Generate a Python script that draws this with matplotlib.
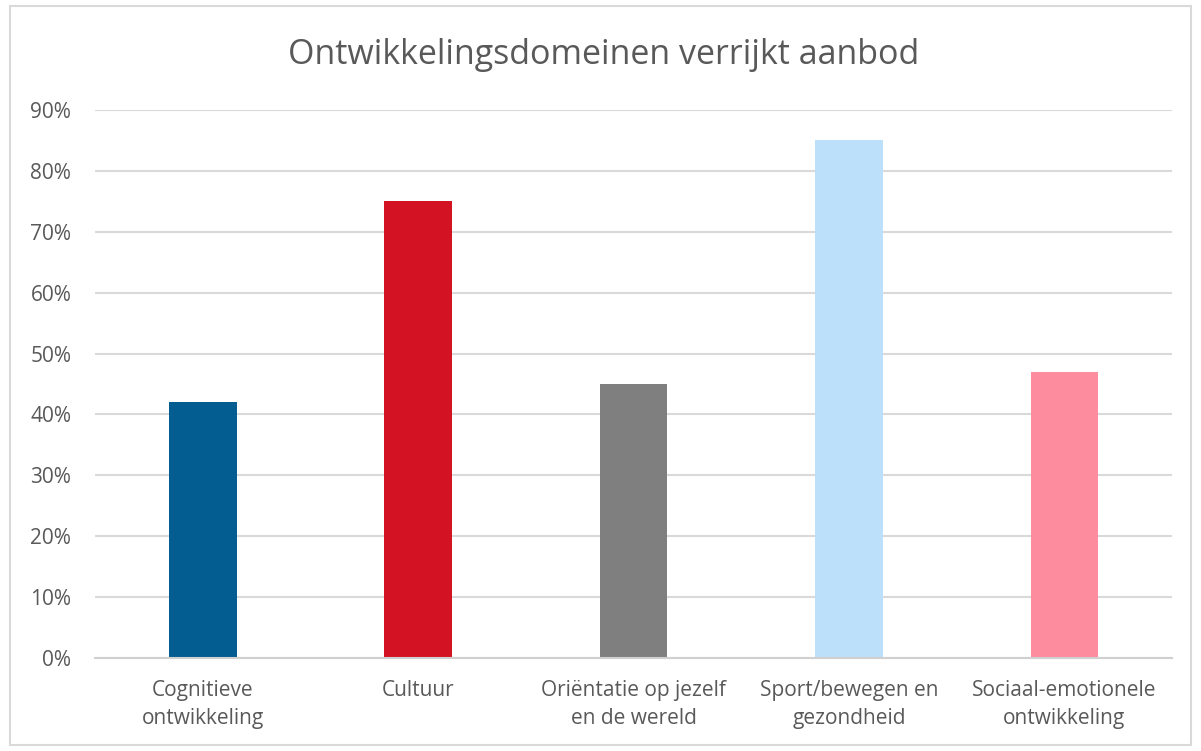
import matplotlib
matplotlib.use('Agg')
import matplotlib.pyplot as plt
from matplotlib.patches import Rectangle
from matplotlib.ticker import PercentFormatter

# data
categories = ['Cognitieve\nontwikkeling', 'Cultuur', 'Oriëntatie op jezelf\nen de wereld',
              'Sport/bewegen en\ngezondheid', 'Sociaal-emotionele\nontwikkeling']
values = [0.42, 0.75, 0.45, 0.85, 0.47]
colors = ['#035d91', '#d31224', '#7f7f7f', '#bcdffa', '#fe8c9f']
title = 'Ontwikkelingsdomeinen verrijkt aanbod'

plt.rcParams['font.family'] = ['Open Sans', 'DejaVu Sans']
text_c = '#595959'

fig = plt.figure(figsize=(12.01, 7.51), dpi=100)
ax = fig.add_axes([0.079, 0.1238, 0.897, 0.7297])

x = range(len(categories))
ax.bar(x, values, width=0.315, color=colors, zorder=3)

ax.set_xlim(-0.5, len(categories) - 0.5)
ax.set_ylim(0, 0.9)
ax.set_yticks([i / 10 for i in range(10)])
ax.yaxis.set_major_formatter(PercentFormatter(1.0, decimals=0))
ax.set_xticks(list(x))
ax.set_xticklabels(categories, fontsize=15, color=text_c, linespacing=1.45)
ax.tick_params(axis='y', labelsize=15, labelcolor=text_c, length=0, pad=17)
ax.tick_params(axis='x', length=0, pad=16)

ax.grid(axis='y', color='#d9d9d9', linewidth=1.5, zorder=0)
for s in ['top', 'right', 'left']:
    ax.spines[s].set_visible(False)
ax.spines['bottom'].set_color('#d0d0d0')
ax.spines['bottom'].set_linewidth(1.5)
ax.spines['bottom'].set_zorder(4)

fig.text(0.503, 0.927, title, ha='center', va='center', fontsize=24.5, color=text_c)

# outer chart frame
fig.patches.append(Rectangle((0.008, 0.008), 0.984, 0.984, transform=fig.transFigure,
                             fill=False, edgecolor='#d9d9d9', linewidth=1.5))

fig.savefig('out.png', dpi=100)
